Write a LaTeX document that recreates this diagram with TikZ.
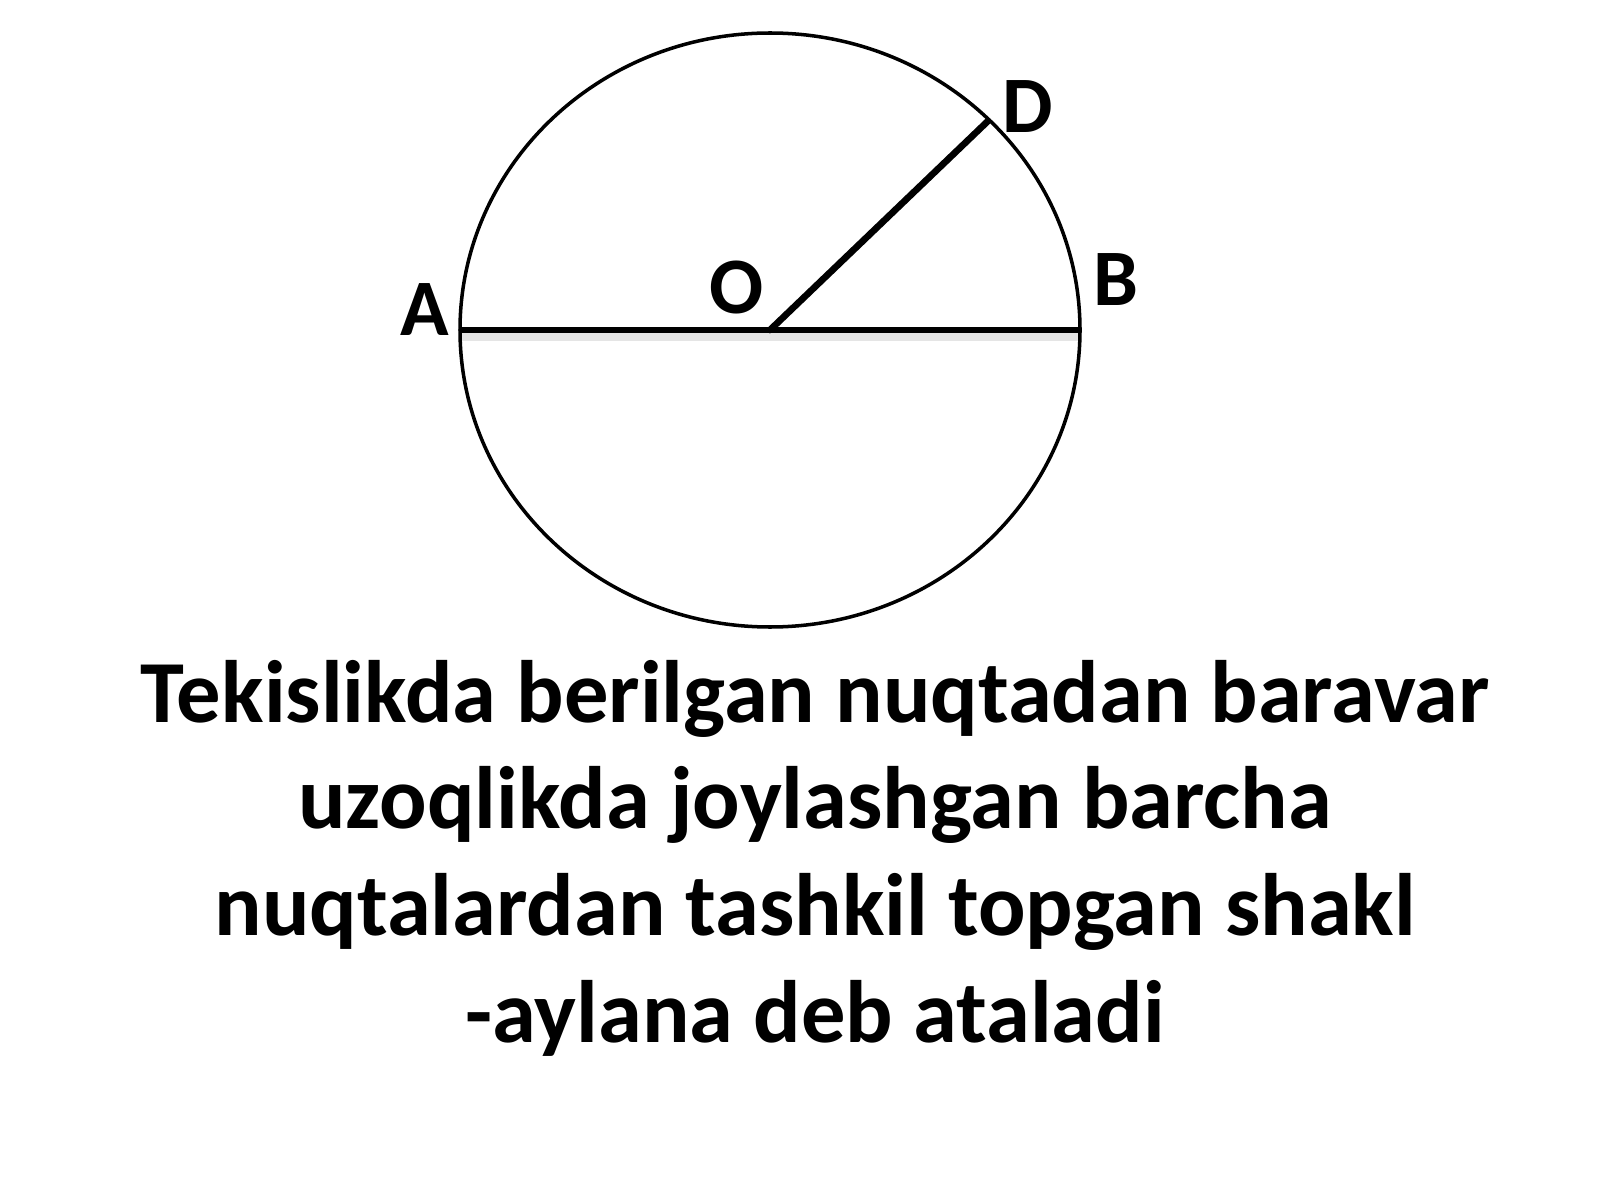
\documentclass[tikz,border=0pt]{standalone}
\usepackage{fontspec}
\setmainfont{Carlito}
\begin{document}
\begin{tikzpicture}[x=0.1mm,y=-0.1mm,
  ptlabel/.style={font=\fontsize{22.8}{27}\selectfont\bfseries, inner sep=0pt, anchor=base},
  bodytext/.style={font=\fontsize{25.2}{30}\selectfont\bfseries, inner sep=0pt, anchor=base},
  seg/.style={line width=1.9pt}]
\useasboundingbox (0,0) rectangle (1600,1200);
\fill[white] (0,0) rectangle (1600,1200);
\coordinate (O) at (770,330);
\coordinate (A) at (460,330);
\coordinate (B) at (1080,330);
\coordinate (D) at (988,121);
\coordinate (As) at (462,336);
\coordinate (Bs) at (1078,336);
\draw[black!10, line width=2.6pt] (As) -- (Bs);
\draw[line width=1pt] (O) ellipse [x radius=310, y radius=297];
\draw[seg] (A) -- (B);
\draw[seg, line cap=round] (O) -- (D);
\node[ptlabel] (lA) at (425,336) {A};
\node[ptlabel] (lO) at (737,313) {O};
\node[ptlabel] (lB) at (1116,305) {B};
\node[ptlabel] (lD) at (1028,133) {D};
\node[bodytext] (t1) at (815,722) {Tekislikda berilgan nuqtadan baravar};
\node[bodytext] (t2) at (815,828.7) {uzoqlikda joylashgan barcha};
\node[bodytext] (t3) at (815,935.3) {nuqtalardan tashkil topgan shakl};
\node[bodytext] (t4) at (815,1042) {-aylana deb ataladi};
\end{tikzpicture}
\end{document}
